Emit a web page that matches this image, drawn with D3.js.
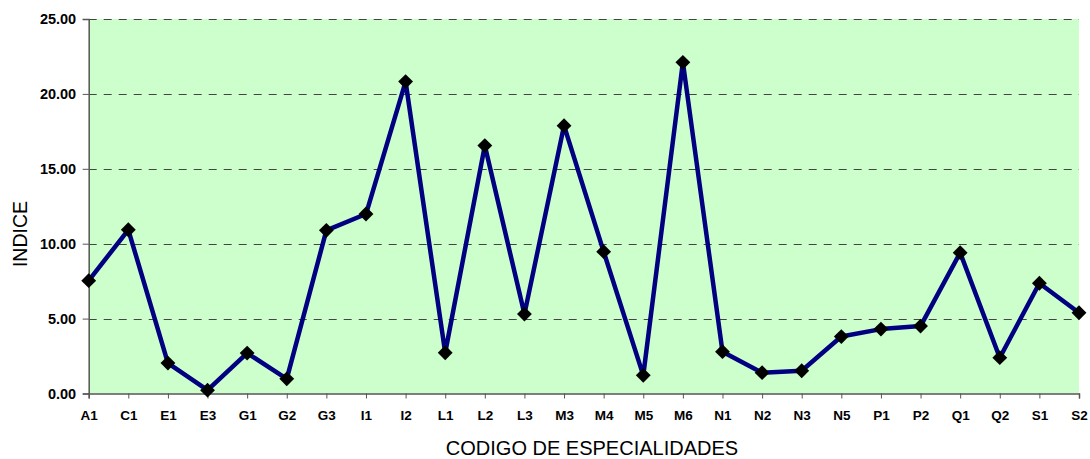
<!DOCTYPE html>
<html>
<head>
<meta charset="utf-8">
<script src="https://cdn.jsdelivr.net/npm/d3@7"></script>
<style>
  body { margin: 0; background: #fff; }
  svg { display: block; font-family: "Liberation Sans", Arial, sans-serif; }
  .axis path, .axis line { stroke: #555; }
  .axis text { font-weight: bold; fill: #000; }
  .grid line { stroke: #444; stroke-dasharray: 8 7; }
</style>
</head>
<body>
<div id="chart"></div>
<script>
// DATA
const categories = ["A1","C1","E1","E3","G1","G2","G3","I1","I2","L1","L2","L3","M3",
  "M4","M5","M6","N1","N2","N3","N5","P1","P2","Q1","Q2","S1","S2"];
const indice = [7.53, 10.93, 2.03, 0.22, 2.7, 0.98, 10.89, 11.98, 20.82, 2.72, 16.55, 5.3, 17.88,
  9.47, 1.21, 22.11, 2.79, 1.39, 1.52, 3.8, 4.3, 4.5, 9.4, 2.39, 7.36, 5.39];
const yTicks = [0, 5, 10, 15, 20, 25];

const width = 1090, height = 459,
  margin = { top: 19, right: 11, bottom: 65.5, left: 88.7 };

const svg = d3.select("#chart").append("svg")
  .attr("width", width)
  .attr("height", height);

const x = d3.scalePoint()
  .domain(categories)
  .range([margin.left, width - margin.right])
  .padding(0);

const y = d3.scaleLinear()
  .domain([0, 25])
  .range([height - margin.bottom, margin.top]);

// plot background
svg.append("rect")
  .attr("x", margin.left)
  .attr("y", margin.top)
  .attr("width", width - margin.right - margin.left)
  .attr("height", height - margin.bottom - margin.top)
  .attr("fill", "#ccffcc");

// gridlines
svg.append("g")
  .attr("class", "grid")
  .selectAll("line")
  .data(yTicks.filter(d => d > 0))
  .join("line")
  .attr("x1", margin.left)
  .attr("x2", width - margin.right)
  .attr("y1", d => Math.round(y(d)) + 0.5)
  .attr("y2", d => Math.round(y(d)) + 0.5);

// axes
svg.append("g")
  .attr("class", "axis x-axis")
  .attr("transform", `translate(0,${height - margin.bottom})`)
  .call(d3.axisBottom(x).tickSize(5).tickPadding(12))
  .call(g => g.selectAll("text").attr("font-size", 13.5));

svg.append("g")
  .attr("class", "axis y-axis")
  .attr("transform", `translate(${margin.left},0)`)
  .call(d3.axisLeft(y).tickValues(yTicks).tickFormat(d3.format(".2f")).tickSize(6).tickPadding(6.5))
  .call(g => g.selectAll("text").attr("font-size", 14.5));

svg.selectAll(".axis path").attr("stroke-width", 1.5);

// line
const line = d3.line()
  .x((d, i) => x(categories[i]))
  .y(d => y(d));

svg.append("path")
  .datum(indice)
  .attr("fill", "none")
  .attr("stroke", "#000080")
  .attr("stroke-width", 4.5)
  .attr("stroke-linejoin", "round")
  .attr("d", line);

// markers
svg.append("g")
  .selectAll("path")
  .data(indice)
  .join("path")
  .attr("d", d3.symbol(d3.symbolSquare, 110))
  .attr("transform", (d, i) => `translate(${x(categories[i])},${y(d)}) rotate(45)`)
  .attr("fill", "#000");

// axis titles
svg.append("text")
  .attr("x", 592)
  .attr("y", 454.5)
  .attr("text-anchor", "middle")
  .attr("font-size", 20)
  .text("CODIGO DE ESPECIALIDADES");

svg.append("text")
  .attr("transform", "translate(27,234) rotate(-90)")
  .attr("text-anchor", "middle")
  .attr("font-size", 19.5)
  .text("INDICE");
</script>
</body>
</html>
